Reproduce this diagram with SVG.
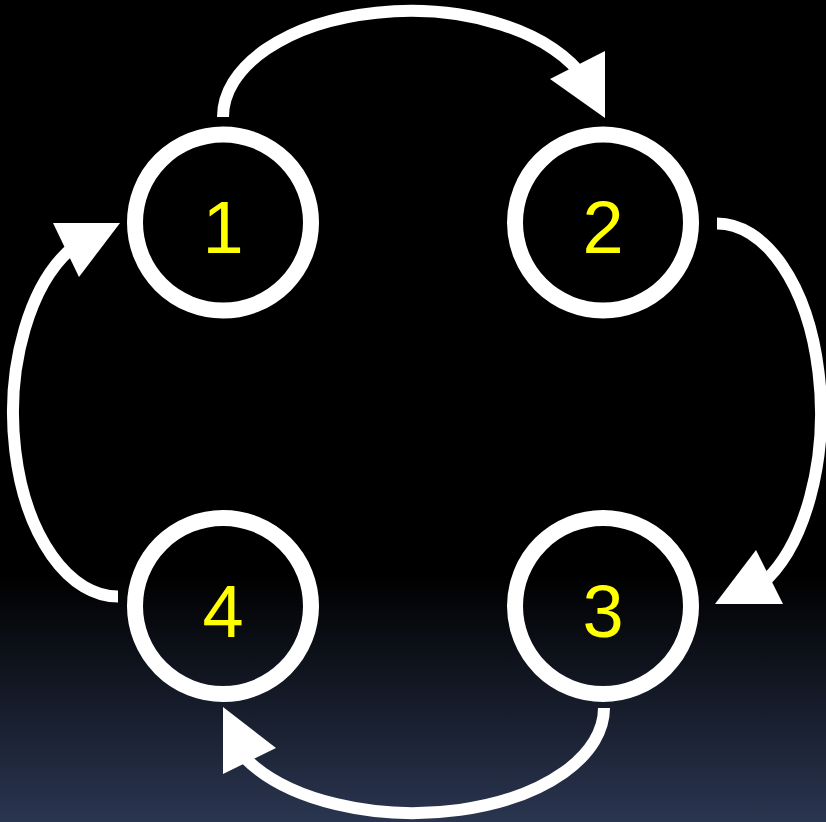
<svg xmlns="http://www.w3.org/2000/svg" width="826" height="822" viewBox="0 0 826 822">
  <defs>
    <linearGradient id="bg" gradientUnits="userSpaceOnUse" x1="0" y1="0" x2="0" y2="822">
      <stop offset="0" stop-color="#000000"/>
      <stop offset="0.70" stop-color="#000000"/>
      <stop offset="1" stop-color="#2a3550"/>
    </linearGradient>
    <style>
      .node { fill: none; stroke: #ffffff; stroke-width: 16; }
      .label { fill: #ffff00; font-family: "Liberation Sans", Arial, sans-serif; font-size: 74px; text-anchor: middle; }
      .arc { fill: none; stroke: #ffffff; stroke-width: 12; stroke-linecap: butt; }
      .head { fill: #ffffff; stroke: none; }
    </style>
  </defs>
  <rect x="0" y="0" width="826" height="822" fill="url(#bg)"/>

  <g id="connectors">
    <g id="edge-1-2">
      <path class="arc" d="M223,117 A187,106 0 0 1 585,79.6"/>
      <polygon class="head" points="550,79 605,51 605,118"/>
    </g>
    <g id="edge-2-3">
      <path class="arc" d="M717,223.5 A104,189.5 0 0 1 760.6,585"/>
      <polygon class="head" points="756,550 783,604 715,604"/>
    </g>
    <g id="edge-3-4">
      <path class="arc" d="M604,708 A191,105 0 0 1 245,758"/>
      <polygon class="head" points="276,748 223,774 223,707"/>
    </g>
    <g id="edge-4-1">
      <path class="arc" d="M118,596.5 A105,183.5 0 0 1 75.8,245"/>
      <polygon class="head" points="53,223 79,277 120,223"/>
    </g>
  </g>

  <g id="node-1">
    <circle class="node" cx="223" cy="222.5" r="88"/>
    <text class="label" x="223" y="253">1</text>
  </g>
  <g id="node-2">
    <circle class="node" cx="603" cy="222.5" r="88"/>
    <text class="label" x="603" y="253">2</text>
  </g>
  <g id="node-3">
    <circle class="node" cx="603" cy="606" r="88"/>
    <text class="label" x="603" y="637">3</text>
  </g>
  <g id="node-4">
    <circle class="node" cx="223" cy="606" r="88"/>
    <text class="label" x="223" y="637">4</text>
  </g>
</svg>
